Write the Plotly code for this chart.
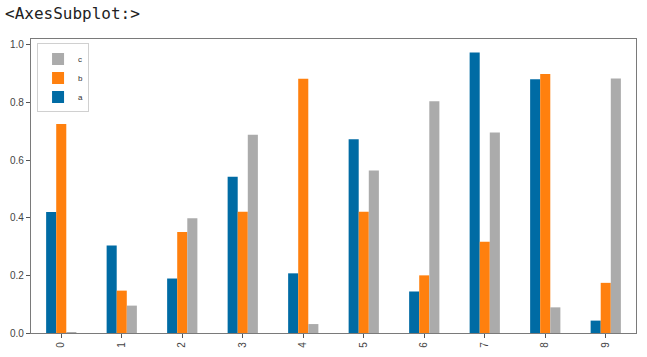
import plotly.graph_objects as go

categories = [0, 1, 2, 3, 4, 5, 6, 7, 8, 9]
a_vals = [0.420, 0.304, 0.189, 0.542, 0.207, 0.672, 0.144, 0.973, 0.880, 0.043]
b_vals = [0.725, 0.147, 0.350, 0.421, 0.882, 0.421, 0.200, 0.317, 0.899, 0.174]
c_vals = [0.002, 0.095, 0.398, 0.688, 0.031, 0.564, 0.804, 0.696, 0.089, 0.883]
y_ticks = [0.0, 0.2, 0.4, 0.6, 0.8, 1.0]

fig = go.Figure()
for name, vals, col in [("a", a_vals, "#006BA4"), ("b", b_vals, "#FF800E"), ("c", c_vals, "#ABABAB")]:
    fig.add_trace(go.Bar(x=categories, y=vals, name=name, marker=dict(color=col, line=dict(width=0))))

axis_common = dict(showline=True, linecolor="#7a7a7a", linewidth=1.3, mirror=True,
                   ticks="outside", ticklen=4, tickcolor="#555", tickwidth=1,
                   showgrid=False, zeroline=False, automargin=False,
                   tickfont=dict(family="Liberation Sans, Arial", size=10, color="#444"))

fig.update_layout(
    width=647, height=357,
    margin=dict(l=31, r=11, t=39, b=24, autoexpand=False),
    paper_bgcolor="white", plot_bgcolor="white",
    barmode="group", bargap=0.5, bargroupgap=0,
    title=dict(text="&lt;AxesSubplot:&gt;", xref="container", yref="container",
               x=5/647, xanchor="left", y=1-13/357, yanchor="middle",
               font=dict(family="DejaVu Sans Mono", size=16, color="#222")),
    legend=dict(x=0.01, y=0.985, xanchor="left", yanchor="top", traceorder="reversed",
                bordercolor="#d0d0d0", borderwidth=1, bgcolor="rgba(255,255,255,0.8)",
                font=dict(family="Liberation Sans, Arial", size=8, color="#333"),
                itemwidth=30, tracegroupgap=0),
    xaxis=dict(range=[-0.5, 9.5], tickvals=categories, ticktext=[str(c) for c in categories],
               tickangle=-90, **axis_common),
    yaxis=dict(range=[0, 1.02], tickvals=y_ticks, ticktext=[f"{t:.1f}" for t in y_ticks], **axis_common),
    showlegend=True,
)

fig.write_html("out.html", config={"displayModeBar": False},
               post_script="document.body.style.margin='0';document.body.style.overflow='hidden';")
